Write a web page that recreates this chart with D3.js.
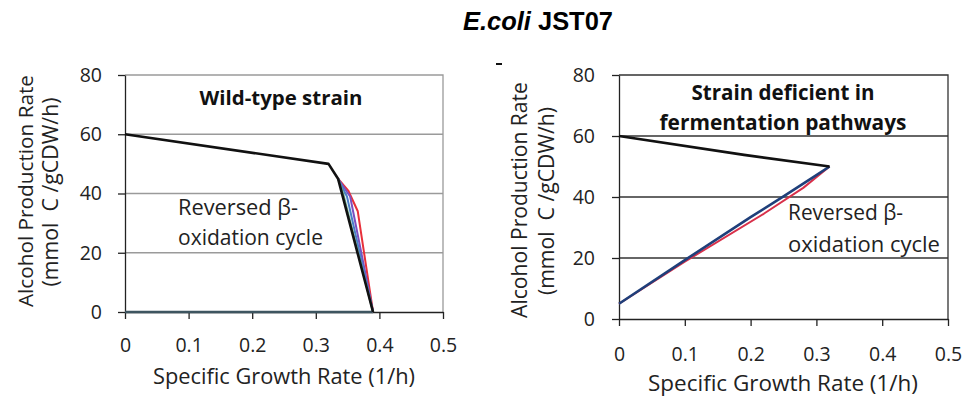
<!DOCTYPE html>
<html>
<head>
<meta charset="utf-8">
<script src="https://cdn.jsdelivr.net/npm/d3@7"></script>
<style>
  body { margin: 0; background: #fff; }
  svg { display: block; }
  text { font-family: "Open Sans", sans-serif; fill: #222; }
</style>
</head>
<body>
<svg></svg>
<script>
const size = { w: 965, h: 401 };
const svg = d3.select("svg").attr("width", size.w).attr("height", size.h);

// ---- data ----
const xTicks = [0, 0.1, 0.2, 0.3, 0.4, 0.5];
const yTicks = [0, 20, 40, 60, 80];

// wild-type strain
const wildBlack = [[0, 60], [0.32, 50], [0.335, 45], [0.39, 0]];
const wildRed = [[0.335, 45], [0.351, 41], [0.366, 34], [0.39, 0]];
const wildPurple = [[0.335, 45], [0.354, 39], [0.39, 0]];
const wildBlue = [[0.335, 45], [0.349, 39], [0.39, 0]];
const wildGreen = [[0.335, 45], [0.343, 40], [0.39, 0]];
const wildBase = [[0, 0], [0.39, 0]];

// strain deficient in fermentation pathways
const defBlack = [[0, 60], [0.19, 53.8], [0.32, 50]];
const defRed = [[0, 5], [0.1, 18.8], [0.22, 34.5], [0.28, 43], [0.32, 50]];
const defBlue = [[0, 5], [0.1, 19.3], [0.2, 33.4], [0.25, 40.2], [0.3, 47.2], [0.32, 50]];

// scale font size so a text gets the width it has in the picture
function fit(sel, width) {
  const fs = parseFloat(sel.style("font-size"));
  const w = sel.node().getComputedTextLength();
  if (w > 0) sel.style("font-size", (fs * width / w).toFixed(2) + "px");
  return sel;
}

// ---- title ----
const title = svg.append("text")
  .attr("x", 538).attr("y", 30)
  .attr("text-anchor", "middle")
  .style("font-family", "Arial, 'Liberation Sans', sans-serif")
  .style("font-weight", "bold")
  .style("font-size", "24px")
  .style("fill", "#000");
title.append("tspan").style("font-style", "italic").text("E.coli");
title.append("tspan").text(" JST07");
fit(title, 150);

function drawPanel(p) {
  const x = d3.scaleLinear().domain([0, 0.5]).range([p.x0, p.x1]);
  const y = d3.scaleLinear().domain([0, 80]).range([p.y0, p.y1]);
  const g = svg.append("g");

  // gridlines
  g.selectAll("line.grid")
    .data(yTicks.filter(d => d > 0 && d < 80))
    .join("line")
    .attr("x1", p.x0).attr("x2", p.x1)
    .attr("y1", d => y(d)).attr("y2", d => y(d))
    .attr("stroke", p.grid).attr("stroke-width", 1.3);

  // box (top + right)
  g.append("path")
    .attr("d", `M${p.x0},${p.y1}H${p.x1}V${p.y0}`)
    .attr("fill", "none").attr("stroke", p.box).attr("stroke-width", 1.3);

  // axes
  const yAxis = g.append("g")
    .attr("transform", `translate(${p.x0},0)`)
    .call(d3.axisLeft(y).tickValues(yTicks).tickSize(7).tickSizeOuter(0).tickPadding(p.yPad));
  const xAxis = g.append("g")
    .attr("transform", `translate(0,${p.y0})`)
    .call(d3.axisBottom(x).tickValues(xTicks).tickSize(7).tickSizeOuter(0)
      .tickFormat(d => d === 0 ? "0" : d3.format(".1f")(d)));
  xAxis.selectAll(".tick text").attr("y", p.xLab).attr("dy", 0);
  [yAxis, xAxis].forEach(a => {
    a.select(".domain").attr("stroke", p.axis).attr("stroke-width", 1.3);
    a.selectAll(".tick line").attr("stroke", p.axis).attr("stroke-width", 1.3);
    a.selectAll(".tick text").style("font-size", "19.5px").style("fill", "#222")
      .style("font-family", "'Open Sans', sans-serif");
  });

  const line = d3.line().x(d => x(d[0])).y(d => y(d[1]));
  p.series.forEach(s => {
    g.append("path")
      .datum(s.data)
      .attr("d", line)
      .attr("fill", "none")
      .attr("stroke", s.color)
      .attr("stroke-width", s.w)
      .attr("stroke-linejoin", "round");
  });

  // axis titles
  const t1 = g.append("text")
    .attr("transform", `translate(${p.yt[0]},${p.yt[1]}) rotate(-90)`)
    .attr("text-anchor", "middle").style("font-size", "19px")
    .text("Alcohol Production Rate");
  fit(t1, p.yt[2]);
  const t2 = g.append("text")
    .attr("transform", `translate(${p.yt2[0]},${p.yt2[1]}) rotate(-90)`)
    .attr("text-anchor", "middle").style("font-size", "19px")
    .attr("xml:space", "preserve")
    .text("(mmol  C /gCDW/h)");
  fit(t2, p.yt2[2]);
  const t3 = g.append("text")
    .attr("x", p.xt[0]).attr("y", p.xt[1])
    .attr("text-anchor", "middle").style("font-size", "19px")
    .text("Specific Growth Rate (1/h)");
  fit(t3, p.xt[2]);

  // in-panel labels
  p.labels.forEach(l => {
    const t = g.append("text")
      .attr("x", l.x).attr("y", l.y)
      .attr("text-anchor", l.anchor || "start")
      .style("font-size", "18px")
      .style("font-weight", l.bold ? "bold" : "normal")
      .style("fill", l.bold ? "#111" : "#222")
      .text(l.text);
    fit(t, l.w);
  });
}

drawPanel({
  x0: 125, x1: 443, y0: 312, y1: 75,
  grid: "#9a9a9a", box: "#9a9a9a", axis: "#222", yPad: 16, xLab: 40,
  yt: [33, 191, 232], yt2: [58, 192, 189], xt: [284, 384, 262],
  series: [
    { data: wildBase, color: "#3d5560", w: 2.5 },
    { data: wildRed, color: "#e8303a", w: 2 },
    { data: wildPurple, color: "#7b4fc0", w: 2 },
    { data: wildBlue, color: "#4a7fc8", w: 2 },
    { data: wildGreen, color: "#6aa88a", w: 2 },
    { data: wildBlack, color: "#111", w: 2.6 }
  ],
  labels: [
    { text: "Wild-type strain", x: 281, y: 105, anchor: "middle", bold: true, w: 163 },
    { text: "Reversed β-", x: 178, y: 215, w: 120 },
    { text: "oxidation cycle", x: 178, y: 245, w: 145 }
  ]
});

drawPanel({
  x0: 619, x1: 948, y0: 319, y1: 75,
  grid: "#333", box: "#333", axis: "#222", yPad: 17, xLab: 42,
  yt: [527, 200, 236], yt2: [554, 201, 188], xt: [783, 391, 270],
  series: [
    { data: defRed, color: "#d8304a", w: 2 },
    { data: defBlue, color: "#1f3f7a", w: 2.6 },
    { data: defBlack, color: "#111", w: 2.6 }
  ],
  labels: [
    { text: "Strain deficient in", x: 783, y: 100, anchor: "middle", bold: true, w: 183 },
    { text: "fermentation pathways", x: 783, y: 130, anchor: "middle", bold: true, w: 247 },
    { text: "Reversed β-", x: 788, y: 220, w: 115 },
    { text: "oxidation cycle", x: 788, y: 252, w: 152 }
  ]
});

// small stray mark above the right panel
svg.append("line")
  .attr("x1", 496).attr("x2", 502).attr("y1", 64).attr("y2", 64)
  .attr("stroke", "#111").attr("stroke-width", 2);
</script>
</body>
</html>
